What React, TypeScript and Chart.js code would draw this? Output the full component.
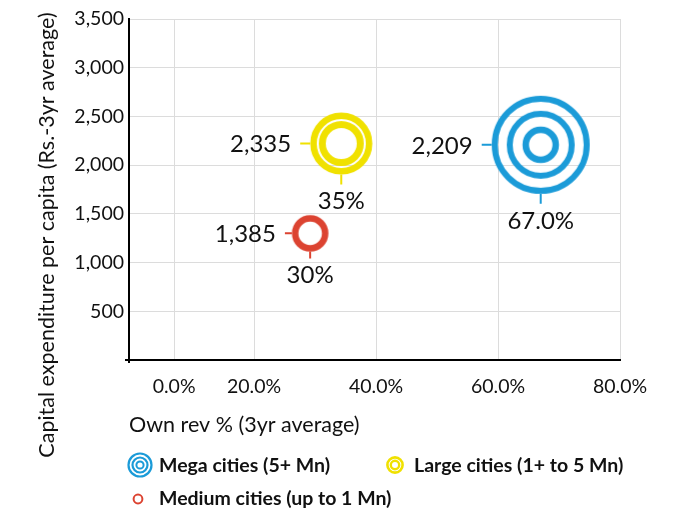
import React, { useEffect, useRef } from "react";
import { Chart, registerables } from "chart.js";

Chart.register(...registerables);

// ---------- data ----------
const seriesNames = [
  "Mega cities (5+ Mn)",
  "Large cities (1+ to 5 Mn)",
  "Medium cities (up to 1 Mn)",
];
const ownRevPct = [67.0, 34.3, 29.2];
const capexPerCapita = [2209, 2222, 1300];
const valueLabels = ["2,209", "2,335", "1,385"];
const pctLabels = ["67.0%", "35%", "30%"];
const xTickValues = [6.9, 20, 40, 60, 80];
const xTickLabels = ["0.0%", "20.0%", "40.0%", "60.0%", "80.0%"];
const yTickValues = [0, 500, 1000, 1500, 2000, 2500, 3000, 3500];
const yTickLabels = ["", "500", "1,000", "1,500", "2,000", "2,500", "3,000", "3,500"];
const xTitle = "Own rev % (3yr average)";
const yTitle = "Capital expenditure per capita (Rs.-3yr average)";

// ---------- styles ----------
const COLORS = ["#1b9bd8", "#f0e100", "#dc4331"];
const RINGS: number[][][] = [
  [[46, 6], [31, 6], [15, 6.5]],
  [[27.8, 6.5], [19, 7]],
  [[15, 6.5]],
];
const LEGEND_RINGS: number[][][] = [
  [[11.5, 2.2], [7.5, 2.2], [3.6, 2]],
  [[7.6, 2.6], [4.2, 2.4]],
  [[4.4, 2]],
];
const LEADER = [10, 10, 7];
const FONT = "Lato, 'Open Sans', sans-serif";
const TEXT = "#111111";

function ringCanvas(rings: number[][], color: string): HTMLCanvasElement {
  const outer = Math.max(...rings.map((r) => r[0] + r[1] / 2));
  const size = Math.ceil(outer * 2) + 2;
  const c = document.createElement("canvas");
  c.width = size;
  c.height = size;
  const ctx = c.getContext("2d")!;
  ctx.strokeStyle = color;
  rings.forEach(([r, w]) => {
    ctx.lineWidth = w;
    ctx.beginPath();
    ctx.arc(size / 2, size / 2, r, 0, Math.PI * 2);
    ctx.stroke();
  });
  return c;
}

function outerRadius(rings: number[][]) {
  return Math.max(...rings.map((r) => r[0] + r[1] / 2));
}

const annotationPlugin = {
  id: "bubbleAnnotations",
  afterDatasetsDraw(chart: any) {
    const ctx = chart.ctx;
    ctx.save();
    seriesNames.forEach((_, i) => {
      const el = chart.getDatasetMeta(i).data[0];
      if (!el) return;
      const cx = el.x;
      const cy = el.y;
      const R = outerRadius(RINGS[i]);
      const L = LEADER[i];
      ctx.strokeStyle = COLORS[i];
      ctx.lineWidth = 2;
      ctx.beginPath();
      ctx.moveTo(cx - R - L, cy);
      ctx.lineTo(cx - R, cy);
      ctx.moveTo(cx, cy + R);
      ctx.lineTo(cx, cy + R + L);
      ctx.stroke();
      ctx.fillStyle = TEXT;
      ctx.font = `24px ${FONT}`;
      ctx.textAlign = "right";
      ctx.textBaseline = "middle";
      ctx.fillText(valueLabels[i], cx - R - L - 9, cy + 1);
      ctx.textAlign = "center";
      ctx.fillText(pctLabels[i], cx, cy + R + L + 17);
    });
    ctx.restore();
  },
  afterDraw(chart: any) {
    const ctx = chart.ctx;
    const area = chart.chartArea;
    ctx.save();
    // axis overhangs
    ctx.strokeStyle = "#000";
    ctx.lineWidth = 2;
    ctx.beginPath();
    ctx.moveTo(area.left - 4, area.bottom);
    ctx.lineTo(area.left, area.bottom);
    ctx.moveTo(area.left, area.bottom);
    ctx.lineTo(area.left, area.bottom + 3);
    ctx.stroke();
    // y title
    ctx.fillStyle = TEXT;
    ctx.font = `21.5px ${FONT}`;
    ctx.textAlign = "center";
    ctx.textBaseline = "middle";
    ctx.translate(39, 227);
    ctx.rotate(-Math.PI / 2);
    ctx.fillText(yTitle, 0, 0);
    ctx.restore();

    // legend
    ctx.save();
    const legendItems = [
      { icon: [132, 457], text: [151, 458] },
      { icon: [387, 457], text: [406, 458] },
      { icon: [130, 491], text: [151, 491] },
    ];
    legendItems.forEach((it, i) => {
      ctx.strokeStyle = COLORS[i];
      LEGEND_RINGS[i].forEach(([r, w]) => {
        ctx.lineWidth = w;
        ctx.beginPath();
        ctx.arc(it.icon[0], it.icon[1], r, 0, Math.PI * 2);
        ctx.stroke();
      });
      ctx.fillStyle = TEXT;
      ctx.font = `bold 19.5px ${FONT}`;
      ctx.textAlign = "left";
      ctx.textBaseline = "middle";
      ctx.fillText(seriesNames[i], it.text[0], it.text[1]);
    });
    ctx.restore();
  },
};

export default function App() {
  const ref = useRef<HTMLCanvasElement | null>(null);

  useEffect(() => {
    if (!ref.current) return;
    const datasets = seriesNames.map((name, i) => {
      const img = ringCanvas(RINGS[i], COLORS[i]);
      const R = outerRadius(RINGS[i]);
      return {
        label: name,
        data: [{ x: ownRevPct[i], y: capexPerCapita[i] }],
        pointStyle: img,
        pointRadius: R,
        pointHoverRadius: R,
        borderColor: COLORS[i],
        backgroundColor: COLORS[i],
      };
    });

    const chart = new Chart(ref.current, {
      type: "scatter",
      data: { datasets },
      options: {
        animation: false,
        responsive: true,
        maintainAspectRatio: false,
        layout: { autoPadding: false, padding: { top: 11, right: 52, left: 0, bottom: 0 } },
        plugins: {
          legend: { display: false },
          tooltip: { enabled: false },
        },
        scales: {
          x: {
            type: "linear",
            min: -0.5,
            max: 80,
            afterBuildTicks: (scale: any) => {
              scale.ticks = xTickValues.map((v) => ({ value: v }));
            },
            afterFit: (scale: any) => {
              scale.height = 151;
            },
            grid: { color: "#dcdcdc", lineWidth: 1, drawTicks: false },
            border: { color: "#000", width: 2 },
            ticks: {
              autoSkip: false,
              maxRotation: 0,
              padding: 15,
              color: TEXT,
              font: { family: FONT, size: 19.5 },
              callback: (_v: any, idx: number) => xTickLabels[idx],
            },
            title: {
              display: true,
              text: xTitle,
              align: "start",
              color: TEXT,
              font: { family: FONT, size: 21.5 },
              padding: { top: 0, bottom: 73 },
            },
          },
          y: {
            type: "linear",
            min: 0,
            max: 3500,
            afterBuildTicks: (scale: any) => {
              scale.ticks = yTickValues.map((v) => ({ value: v }));
            },
            afterFit: (scale: any) => {
              scale.width = 121;
              scale.paddingTop = 0;
              scale.paddingBottom = 0;
            },
            grid: { color: "#dcdcdc", lineWidth: 1, drawTicks: false },
            border: { color: "#000", width: 2 },
            ticks: {
              autoSkip: false,
              padding: 5,
              color: TEXT,
              font: { family: FONT, size: 19.5 },
              callback: (_v: any, idx: number) => yTickLabels[idx],
            },
          },
        },
      },
      plugins: [annotationPlugin],
    } as any);

    return () => chart.destroy();
  }, []);

  return (
    <div style={{ position: "relative", width: 664, height: 503 }}>
      <canvas ref={ref} />
    </div>
  );
}
